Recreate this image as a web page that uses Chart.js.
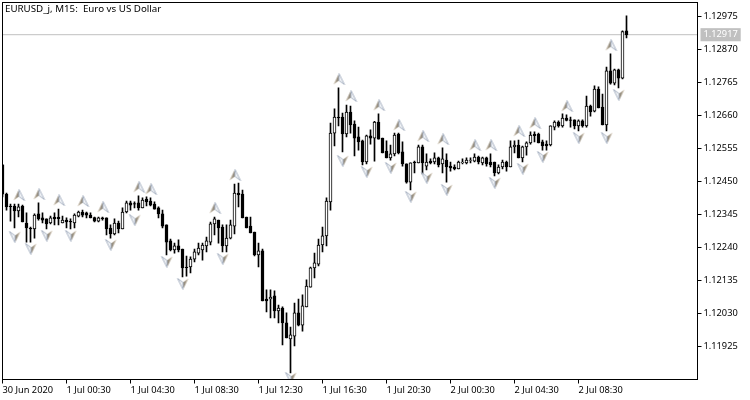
<!DOCTYPE html>
<html>
<head>
<meta charset="utf-8">
<style>
  html, body { margin: 0; padding: 0; background: #fff; }
  canvas { display: block; }
</style>
</head>
<body>
<canvas id="chart" width="750" height="400"></canvas>
<script src="https://cdn.jsdelivr.net/npm/chart.js@4"></script>
<script>
const symbolTitle = 'EURUSD_j, M15:  Euro vs US Dollar';
const lastPrice = 1.12917;

const opens = [
  1.12503,1.12410,1.12372,1.12372,1.12356,1.12372,1.12318,1.12302,1.12299,1.12347,
  1.12334,1.12331,1.12318,1.12337,1.12337,1.12318,1.12327,1.12323,1.12318,1.12340,
  1.12353,1.12350,1.12343,1.12335,1.12324,1.12334,1.12334,1.12302,1.12283,1.12318,
  1.12299,1.12353,1.12382,1.12380,1.12382,1.12366,1.12394,1.12388,1.12378,1.12366,
  1.12347,1.12312,1.12261,1.12232,1.12245,1.12235,1.12178,1.12178,1.12203,1.12222,
  1.12232,1.12245,1.12257,1.12315,1.12327,1.12305,1.12245,1.12270,1.12308,1.12413,
  1.12410,1.12337,1.12308,1.12289,1.12216,1.12229,1.12076,1.12076,1.12086,1.12038,
  1.12047,1.12000,1.11949,1.11958,1.12032,1.11993,1.12051,1.12114,1.12175,1.12187,
  1.12248,1.12277,1.12385,1.12604,1.12655,1.12655,1.12601,1.12671,1.12633,1.12592,
  1.12579,1.12512,1.12595,1.12588,1.12639,1.12588,1.12547,1.12525,1.12538,1.12601,
  1.12544,1.12506,1.12448,1.12512,1.12509,1.12560,1.12499,1.12515,1.12512,1.12525,
  1.12506,1.12518,1.12499,1.12496,1.12490,1.12510,1.12509,1.12517,1.12515,1.12528,
  1.12509,1.12525,1.12512,1.12512,1.12477,1.12496,1.12512,1.12496,1.12560,1.12566,
  1.12525,1.12560,1.12573,1.12601,1.12601,1.12576,1.12569,1.12566,1.12623,1.12639,
  1.12627,1.12652,1.12646,1.12646,1.12627,1.12643,1.12627,1.12690,1.12674,1.12744,
  1.12687,1.12630,1.12802,1.12763,1.12805,1.12779,1.12929
];
const highs = [
  1.12504,1.12413,1.12378,1.12378,1.12378,1.12375,1.12350,1.12305,1.12347,1.12382,
  1.12350,1.12331,1.12340,1.12350,1.12362,1.12340,1.12334,1.12331,1.12347,1.12356,
  1.12359,1.12353,1.12350,1.12337,1.12337,1.12337,1.12334,1.12312,1.12331,1.12324,
  1.12366,1.12388,1.12388,1.12385,1.12404,1.12398,1.12401,1.12398,1.12385,1.12369,
  1.12359,1.12312,1.12267,1.12254,1.12264,1.12235,1.12213,1.12210,1.12235,1.12254,
  1.12254,1.12273,1.12321,1.12337,1.12327,1.12312,1.12312,1.12327,1.12442,1.12445,
  1.12423,1.12337,1.12337,1.12289,1.12254,1.12235,1.12105,1.12105,1.12102,1.12057,
  1.12051,1.12032,1.11987,1.12063,1.12076,1.12089,1.12137,1.12178,1.12222,1.12267,
  1.12305,1.12398,1.12636,1.12681,1.12748,1.12668,1.12693,1.12690,1.12643,1.12623,
  1.12582,1.12598,1.12614,1.12641,1.12665,1.12588,1.12579,1.12566,1.12604,1.12604,
  1.12576,1.12506,1.12509,1.12515,1.12566,1.12566,1.12538,1.12522,1.12541,1.12528,
  1.12557,1.12538,1.12512,1.12503,1.12515,1.12522,1.12525,1.12525,1.12538,1.12531,
  1.12528,1.12528,1.12538,1.12512,1.12503,1.12518,1.12515,1.12579,1.12579,1.12582,
  1.12563,1.12576,1.12608,1.12608,1.12604,1.12582,1.12579,1.12627,1.12643,1.12643,
  1.12665,1.12662,1.12655,1.12646,1.12646,1.12646,1.12722,1.12693,1.12754,1.12751,
  1.12728,1.12814,1.12856,1.12808,1.12808,1.12929,1.12977
];
const lows = [
  1.12401,1.12359,1.12324,1.12302,1.12337,1.12321,1.12257,1.12257,1.12270,1.12327,
  1.12318,1.12299,1.12315,1.12312,1.12312,1.12318,1.12302,1.12299,1.12302,1.12337,
  1.12337,1.12334,1.12334,1.12321,1.12321,1.12327,1.12280,1.12270,1.12280,1.12286,
  1.12299,1.12350,1.12359,1.12366,1.12359,1.12366,1.12372,1.12372,1.12362,1.12334,
  1.12302,1.12216,1.12229,1.12222,1.12226,1.12146,1.12149,1.12159,1.12194,1.12216,
  1.12200,1.12226,1.12248,1.12280,1.12254,1.12226,1.12226,1.12267,1.12283,1.12369,
  1.12334,1.12302,1.12286,1.12213,1.12178,1.12070,1.12035,1.12016,1.12016,1.12000,
  1.11930,1.11952,1.11841,1.11927,1.11990,1.11974,1.12051,1.12114,1.12143,1.12181,
  1.12226,1.12245,1.12359,1.12563,1.12627,1.12544,1.12592,1.12604,1.12531,1.12550,
  1.12503,1.12506,1.12569,1.12515,1.12585,1.12541,1.12525,1.12518,1.12531,1.12538,
  1.12499,1.12445,1.12423,1.12477,1.12509,1.12474,1.12487,1.12506,1.12506,1.12496,
  1.12477,1.12448,1.12483,1.12487,1.12490,1.12506,1.12506,1.12509,1.12512,1.12506,
  1.12503,1.12499,1.12496,1.12468,1.12474,1.12490,1.12483,1.12496,1.12541,1.12525,
  1.12512,1.12534,1.12569,1.12576,1.12573,1.12550,1.12550,1.12563,1.12614,1.12623,
  1.12623,1.12643,1.12623,1.12617,1.12611,1.12623,1.12623,1.12658,1.12671,1.12684,
  1.12630,1.12611,1.12760,1.12757,1.12748,1.12776,1.12907
];
const closes = [
  1.12410,1.12369,1.12370,1.12356,1.12369,1.12321,1.12302,1.12299,1.12343,1.12331,
  1.12327,1.12315,1.12334,1.12331,1.12332,1.12327,1.12321,1.12321,1.12343,1.12353,
  1.12343,1.12343,1.12334,1.12324,1.12334,1.12331,1.12299,1.12283,1.12318,1.12299,
  1.12353,1.12382,1.12375,1.12378,1.12366,1.12391,1.12385,1.12375,1.12362,1.12347,
  1.12308,1.12257,1.12232,1.12245,1.12232,1.12175,1.12176,1.12203,1.12226,1.12238,
  1.12248,1.12261,1.12315,1.12331,1.12302,1.12245,1.12270,1.12312,1.12413,1.12407,
  1.12334,1.12302,1.12286,1.12216,1.12229,1.12070,1.12070,1.12082,1.12038,1.12047,
  1.12000,1.11952,1.11962,1.12032,1.11993,1.12054,1.12117,1.12175,1.12191,1.12248,
  1.12277,1.12388,1.12604,1.12655,1.12652,1.12601,1.12671,1.12630,1.12588,1.12576,
  1.12512,1.12595,1.12588,1.12639,1.12585,1.12541,1.12525,1.12538,1.12598,1.12541,
  1.12506,1.12448,1.12509,1.12509,1.12560,1.12509,1.12512,1.12509,1.12525,1.12503,
  1.12522,1.12496,1.12493,1.12490,1.12512,1.12512,1.12518,1.12518,1.12528,1.12512,
  1.12525,1.12506,1.12503,1.12477,1.12496,1.12512,1.12496,1.12560,1.12566,1.12525,
  1.12560,1.12573,1.12598,1.12596,1.12573,1.12563,1.12563,1.12627,1.12639,1.12627,
  1.12652,1.12644,1.12644,1.12627,1.12643,1.12627,1.12690,1.12671,1.12744,1.12684,
  1.12630,1.12802,1.12763,1.12805,1.12779,1.12927,1.12917
];

// fractal arrows: bar number and price
const upBars = [4,9,14,20,25,34,37,53,58,84,87,94,99,105,110,118,122,129,133,141,152];
const upPrices = [
  1.12407,1.12410,1.12391,1.12388,1.12369,1.12433,1.12426,1.12366,1.12471,1.12776,1.12722,
  1.12693,1.12630,1.12595,1.12585,1.12566,1.12566,1.12611,1.12636,1.12690,1.12884
];
const downBars = [3,7,11,17,27,33,41,45,55,72,85,91,97,102,106,111,123,130,135,144,151,154];
const downPrices = [
  1.12273,1.12235,1.12277,1.12277,1.12248,1.12327,1.12194,1.12124,1.12203,1.11825,1.12515,
  1.12480,1.12493,1.12401,1.12461,1.12423,1.12445,1.12490,1.12528,1.12588,1.12588,1.12725
];

const priceTicks = [1.12975,1.12870,1.12765,1.12660,1.12555,1.12450,1.12345,1.12240,1.12135,1.12030,1.11925];
const timeTickBars = [0,16,32,48,64,80,96,112,128,144];
const timeTickLabels = ['30 Jun 2020','1 Jul 00:30','1 Jul 04:30','1 Jul 08:30','1 Jul 12:30','1 Jul 16:30','1 Jul 20:30','2 Jul 00:30','2 Jul 04:30','2 Jul 08:30'];

const FONT = {family: '"Noto Sans"', size: 9.25};
const X_MAX = 173.75;

function makeArrow(up) {
    let c = document.createElement('canvas');
    c.width = 14;
    c.height = 12;
    let g = c.getContext('2d');
    if (!up) {
        g.translate(15, 12);
        g.rotate(Math.PI);
    }
    // dark wing
    let shade = g.createLinearGradient(2, 0, 8, 0);
    shade.addColorStop(0, '#cdbfa8');
    shade.addColorStop(1, '#7d786e');
    g.fillStyle = shade;
    g.beginPath();
    g.moveTo(7.5, 0.5);
    g.lineTo(2, 11.5);
    g.lineTo(7.5, 7.5);
    g.closePath();
    g.fill();
    // light wing
    g.fillStyle = '#f1f3f6';
    g.strokeStyle = '#aab4c4';
    g.lineWidth = 1;
    g.beginPath();
    g.moveTo(7.5, 0.5);
    g.lineTo(13, 11.5);
    g.lineTo(7.5, 7.5);
    g.closePath();
    g.fill();
    g.stroke();
    return c;
}

const wicks = highs.map((h, i) => ({x: i, y: [lows[i], h]}));
const bodies = opens.map((o, i) => ({x: i, y: [o, closes[i]]}));
const bodyColors = opens.map((o, i) => closes[i] > o ? '#ffffff' : '#000000');

const frameAndTitle = {
    id: 'frameAndTitle',
    afterDraw(chart) {
        let ctx = chart.ctx;
        let a = chart.chartArea;
        ctx.save();
        ctx.strokeStyle = '#000';
        ctx.lineWidth = 1;
        ctx.strokeRect(a.left, a.top, a.right - a.left, a.bottom - a.top);
        ctx.fillStyle = '#000';
        ctx.font = '9.75px ' + FONT.family;
        ctx.textBaseline = 'middle';
        ctx.fillText(symbolTitle, 5, 9);
        ctx.restore();
    }
};

new Chart(document.getElementById('chart').getContext('2d'), {
    type: 'bar',
    data: {
        datasets: [
            {
                type: 'line',
                data: [{x: 0, y: lastPrice}, {x: X_MAX, y: lastPrice}],
                borderColor: '#c0c0c0',
                borderWidth: 1,
                pointRadius: 0,
                order: 4
            },
            {
                data: wicks,
                backgroundColor: '#000',
                borderWidth: 0,
                barThickness: 1,
                grouped: false,
                order: 3
            },
            {
                data: bodies,
                backgroundColor: bodyColors,
                borderColor: '#000',
                borderWidth: 1,
                borderSkipped: false,
                barThickness: 3,
                grouped: false,
                order: 2
            },
            {
                type: 'scatter',
                data: upBars.map((b, i) => ({x: b, y: upPrices[i]})),
                pointStyle: makeArrow(true),
                order: 1
            },
            {
                type: 'scatter',
                data: downBars.map((b, i) => ({x: b, y: downPrices[i]})),
                pointStyle: makeArrow(false),
                order: 1
            }
        ]
    },
    options: {
        responsive: false,
        animation: false,
        layout: {autoPadding: false, padding: {left: 2.5, top: 2.5, right: 0, bottom: 0}},
        plugins: {legend: {display: false}, tooltip: {enabled: false}},
        scales: {
            x: {
                type: 'linear',
                offset: false,
                min: 0,
                max: X_MAX,
                grid: {offset: false, drawOnChartArea: false, tickLength: 4, tickColor: '#000'},
                border: {display: false},
                ticks: {
                    align: 'start',
                    autoSkip: false,
                    maxRotation: 0,
                    padding: 1,
                    color: '#000',
                    font: FONT,
                    callback: v => timeTickLabels[timeTickBars.indexOf(v)]
                },
                afterBuildTicks: s => { s.ticks = timeTickBars.map(v => ({value: v})); },
                afterFit: s => { s.height = 20.5; s.paddingLeft = 0; s.paddingRight = 0; }
            },
            y: {
                position: 'right',
                min: 1.118199,
                max: 1.130195,
                grid: {
                    drawOnChartArea: false,
                    tickLength: 4,
                    tickColor: c => c.tick.value === lastPrice ? 'transparent' : '#000'
                },
                border: {display: false},
                ticks: {
                    autoSkip: false,
                    padding: 2,
                    font: FONT,
                    color: c => c.tick.value === lastPrice ? '#fff' : '#000',
                    showLabelBackdrop: c => c.tick.value === lastPrice,
                    backdropColor: '#c0c0c0',
                    backdropPadding: {left: 3, right: 3, top: 1, bottom: 1},
                    callback: v => v.toFixed(5)
                },
                afterBuildTicks: s => { s.ticks = priceTicks.concat(lastPrice).map(v => ({value: v})); },
                afterFit: s => { s.width = 52.5; s.paddingTop = 0; s.paddingBottom = 0; }
            }
        }
    },
    plugins: [frameAndTitle]
});
</script>
</body>
</html>
